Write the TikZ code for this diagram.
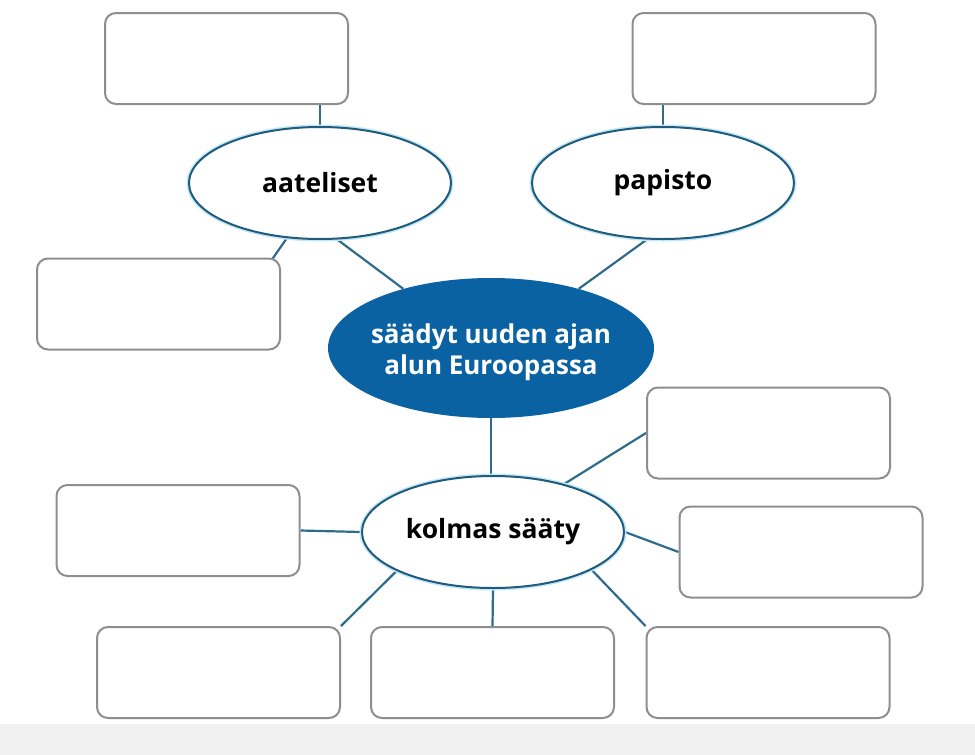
\documentclass[tikz,border=0pt]{standalone}
\usepackage{fontspec}
\setmainfont{Open Sans}
\usetikzlibrary{shapes.geometric,backgrounds}
\definecolor{hub}{HTML}{0B62A3}
\definecolor{edgec}{HTML}{2E6B8C}
\definecolor{ring}{HTML}{1F5B7C}
\definecolor{glow}{HTML}{C4E8F6}
\definecolor{boxline}{HTML}{8E8E8E}
\definecolor{band}{HTML}{F1F1F1}
\begin{document}
\begin{tikzpicture}[x=1pt,y=-1pt,
 answerbox/.style={draw=boxline, line width=2pt, rounded corners=11pt, fill=white, minimum width=243pt, minimum height=91pt, inner sep=0pt},
 topic/.style={ellipse, draw=ring, line width=2pt, preaction={draw=glow,line width=5pt}, fill=white, minimum width=262pt, minimum height=112pt, inner sep=0pt, font=\bfseries\fontsize{26.5}{28}\selectfont},
 hubnode/.style={ellipse, fill=hub, minimum width=326pt, minimum height=140pt, inner sep=0pt},
 hubtext/.style={text=white, inner sep=0pt, align=center, font=\bfseries\fontsize{26}{31}\selectfont},
 link/.style={draw=edgec, line width=2.2pt}]
\useasboundingbox (0,0) rectangle (975,755);
\fill[band] (0,724) rectangle (975,755);
\node[answerbox] (tl) at (226.5,58.5) {};
\node[answerbox] (tr) at (754,58.5) {};
\node[topic] (aat) at (320,183) {aateliset};
\node[topic] (pap) at (663,183) {papisto};
\node[answerbox] (ml) at (158.5,304) {};
\node[hubnode] (hub) at (491,348) {};
\node[hubtext] (hubt) at ([yshift=-4pt]hub.center) {säädyt uuden ajan\\alun Euroopassa};
\node[answerbox] (mr) at (768.5,433) {};
\node[topic] (kol) at (493,532) {kolmas sääty};
\node[answerbox] (kl) at (178,530.5) {};
\node[answerbox] (kr) at (801,552) {};
\node[answerbox] (b1) at (218.5,672.5) {};
\node[answerbox] (b2) at (492.5,672.5) {};
\node[answerbox] (b3) at (768,672.5) {};
\begin{scope}[on background layer]
\draw[link] (aat.north) -- (aat.north |- tl.south);
\draw[link] (pap.north) -- (pap.north |- tr.south);
\draw[link] (aat.239) -- ([xshift=-9pt,yshift=-2pt]ml.north east);
\draw[link] (aat.287) -- (hub.146);
\draw[link] (pap.254) -- (hub.34);
\draw[link] (hub.south) -- (hub.south |- kol.north);
\draw[link] (kol.34) -- (mr.west);
\draw[link] (kol.west) -- (kl.east);
\draw[link] (kol.east) -- (kr.west);
\draw[link] (kol.202) -- (b1.north east);
\draw[link] (kol.south) -- (b2.north);
\draw[link] (kol.339) -- (b3.north west);
\end{scope}
\end{tikzpicture}
\end{document}
